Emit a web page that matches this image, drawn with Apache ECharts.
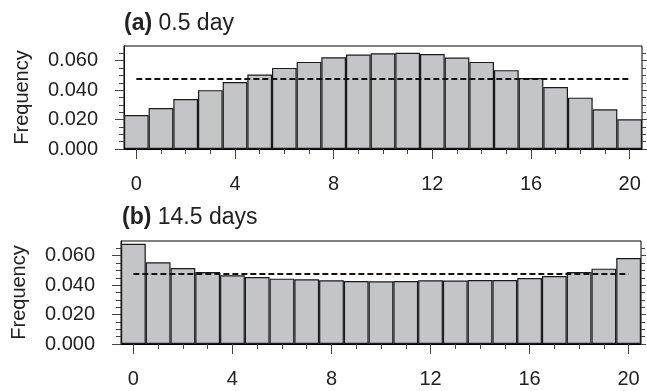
<!DOCTYPE html>
<html>
<head>
<meta charset="utf-8">
<script src="https://cdn.jsdelivr.net/npm/echarts@6/dist/echarts.min.js"></script>
<style>
  html, body { margin: 0; padding: 0; background: #fff; }
  #main { width: 647px; height: 391px; }
</style>
</head>
<body>
<div id="main"></div>
<script>
// bins 0..20
let bins = ['0','1','2','3','4','5','6','7','8','9','10','11','12','13','14','15','16','17','18','19','20'];
// (a) 0.5 day
let freqHalfDay = [0.0231, 0.0279, 0.0340, 0.0400, 0.0455, 0.0506, 0.0551, 0.0592, 0.0624, 0.0642, 0.0651,
                   0.0654, 0.0646, 0.0622, 0.0592, 0.0536, 0.0482, 0.0421, 0.0349, 0.0270, 0.0202];
// (b) 14.5 days
let freq145Days = [0.0681, 0.0555, 0.0516, 0.0489, 0.0467, 0.0455, 0.0444, 0.0440, 0.0433, 0.0428, 0.0426,
                   0.0428, 0.0433, 0.0431, 0.0435, 0.0435, 0.0449, 0.0462, 0.0489, 0.0512, 0.0584];
// flat reference level (dashed)
let uniformLevel = 0.0476;
let yMajor = [0, 0.02, 0.04, 0.06];
let yMinor = [0.005, 0.01, 0.015, 0.025, 0.03, 0.035, 0.045, 0.05, 0.055, 0.065];
let titles = ['{b|(a)} 0.5 day', '{b|(b)} 14.5 days'];

let font = 'Liberation Sans';
let chart = echarts.init(document.getElementById('main'));

let grids = [
  {left: 124, top: 46, width: 518, height: 103},
  {left: 121, top: 241, width: 520, height: 103}
];

let xAxes = [];
let yAxes = [];
let series = [];

function xAx(g, pos, interval, len, labels){
  return {
    type: 'category', gridIndex: g, position: pos, data: bins,
    boundaryGap: true,
    axisLine: {show: labels, lineStyle: {color: '#000', width: 1}},
    axisTick: {show: true, alignWithLabel: true, interval: interval, length: len,
               lineStyle: {color: '#444', width: 1}},
    axisLabel: {show: labels, interval: 3, margin: 25, fontSize: 20, color: '#222', fontFamily: font},
    splitLine: {show: false}
  };
}

function yAx(g, pos, vals, len, labels){
  return {
    type: 'value', gridIndex: g, position: pos, min: 0, max: 0.07,
    name: labels ? 'Frequency' : '', nameLocation: 'middle', nameGap: 92,
    nameTextStyle: {fontSize: 20, color: '#222', fontFamily: font},
    axisLine: {show: labels, lineStyle: {color: '#000', width: 1}},
    axisTick: {show: true, customValues: vals, length: len, lineStyle: {color: '#444', width: 1}},
    axisLabel: {show: labels, customValues: vals, margin: 26, fontSize: 20, color: '#222', fontFamily: font,
                formatter: function(v){ return v.toFixed(3); }},
    splitLine: {show: false}
  };
}

[freqHalfDay, freq145Days].forEach(function(d, g){
  let xi = xAxes.length, yi = yAxes.length;
  xAxes.push(xAx(g, 'bottom', 0, 5, true));
  xAxes.push(xAx(g, 'bottom', 3, 10, false));
  xAxes.push(xAx(g, 'top', 0, 5, false));
  xAxes.push(xAx(g, 'top', 3, 10, false));
  yAxes.push(yAx(g, 'left', yMajor, 9, true));
  yAxes.push(yAx(g, 'left', yMinor, 5, false));
  yAxes.push(yAx(g, 'right', yMajor, 5, false));
  yAxes.push(yAx(g, 'right', yMinor, 4, false));
  series.push({
    type: 'bar', xAxisIndex: xi, yAxisIndex: yi, data: d,
    barCategoryGap: '0%', silent: true,
    itemStyle: {color: '#c4c5c7', borderColor: '#1a1a1a', borderWidth: 1.2}
  });
  series.push({
    type: 'line', xAxisIndex: xi, yAxisIndex: yi, z: 5,
    data: bins.map(function(){ return uniformLevel; }),
    symbol: 'none', silent: true,
    lineStyle: {color: '#111', width: 2, type: [6, 3]}
  });
});

let option = {
  backgroundColor: '#fff',
  animation: false,
  title: titles.map(function(t, i){
    return {
      text: t, left: i === 0 ? 119 : 117, top: i === 0 ? 7 : 201,
      textStyle: {fontSize: 23, fontWeight: 'normal', color: '#222', fontFamily: font,
                  rich: {b: {fontSize: 23, fontWeight: 'bold', color: '#222', fontFamily: font}}}
    };
  }),
  grid: grids.map(function(g){
    return Object.assign({show: true, borderColor: '#000', borderWidth: 1, backgroundColor: 'transparent'}, g);
  }),
  xAxis: xAxes,
  yAxis: yAxes,
  series: series
};

chart.setOption(option);
</script>
</body>
</html>
